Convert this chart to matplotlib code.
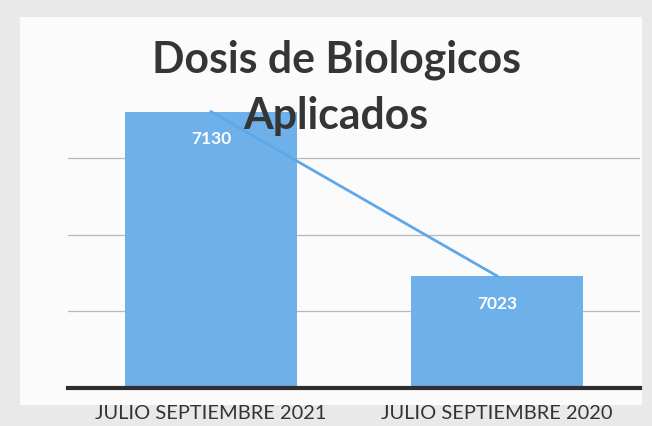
import matplotlib.pyplot as plt
from matplotlib.patches import Rectangle

# datos del grafico
periodos = ["JULIO SEPTIEMBRE 2021", "JULIO SEPTIEMBRE 2020"]
dosis = [7130, 7023]
y_min, y_max = 6950, 7150
y_ticks = [7000, 7050, 7100]

bar_color = "#6db0ea"
line_color = "#5ea8e8"

fig = plt.figure(figsize=(6.52, 4.26), dpi=100, facecolor="#e9e9e9")
fig.patches.append(Rectangle((0.03, 0.05), 0.955, 0.91, transform=fig.transFigure,
                             facecolor="#fbfbfb", edgecolor="none", zorder=-5))
ax = fig.add_axes([68 / 652, 1 - 388 / 426, 572 / 652, 307 / 426])
ax.set_facecolor("none")
ax.set_zorder(1)

x = range(len(periodos))
ax.bar(x, dosis, width=0.6, color=bar_color, zorder=2)
ax.plot(x, dosis, color=line_color, linewidth=2, zorder=3)

for xi, v in zip(x, dosis):
    ax.annotate(str(v), (xi, v), xytext=(0, -20), textcoords="offset points",
                ha="center", va="center", color="white", fontsize=12.5,
                fontweight="bold", family="Lato", zorder=4)

ax.set_xlim(-0.5, 1.5)
ax.set_ylim(y_min, y_max)
ax.set_yticks(y_ticks)
ax.set_yticklabels([])
ax.tick_params(left=False, bottom=False)
ax.grid(axis="y", color="#b8b8b8", linewidth=0.9, zorder=1)
ax.set_xticks(list(x))
ax.set_xticklabels(periodos, family="Lato", fontsize=14.4, color="#333333")
ax.tick_params(axis="x", pad=9)

for s in ["top", "right", "left"]:
    ax.spines[s].set_visible(False)
ax.spines["bottom"].set_color("#2e2e2e")
ax.spines["bottom"].set_linewidth(3)
ax.spines["bottom"].set_zorder(5)

fig.text(336 / 652, 1 - 88 / 426, "Dosis de Biologicos\nAplicados", ha="center",
         va="center", family="Lato", fontweight="bold", fontsize=30.8,
         color="#353535", linespacing=1.5, zorder=10)

fig.savefig("out.png", dpi=100, facecolor=fig.get_facecolor())
